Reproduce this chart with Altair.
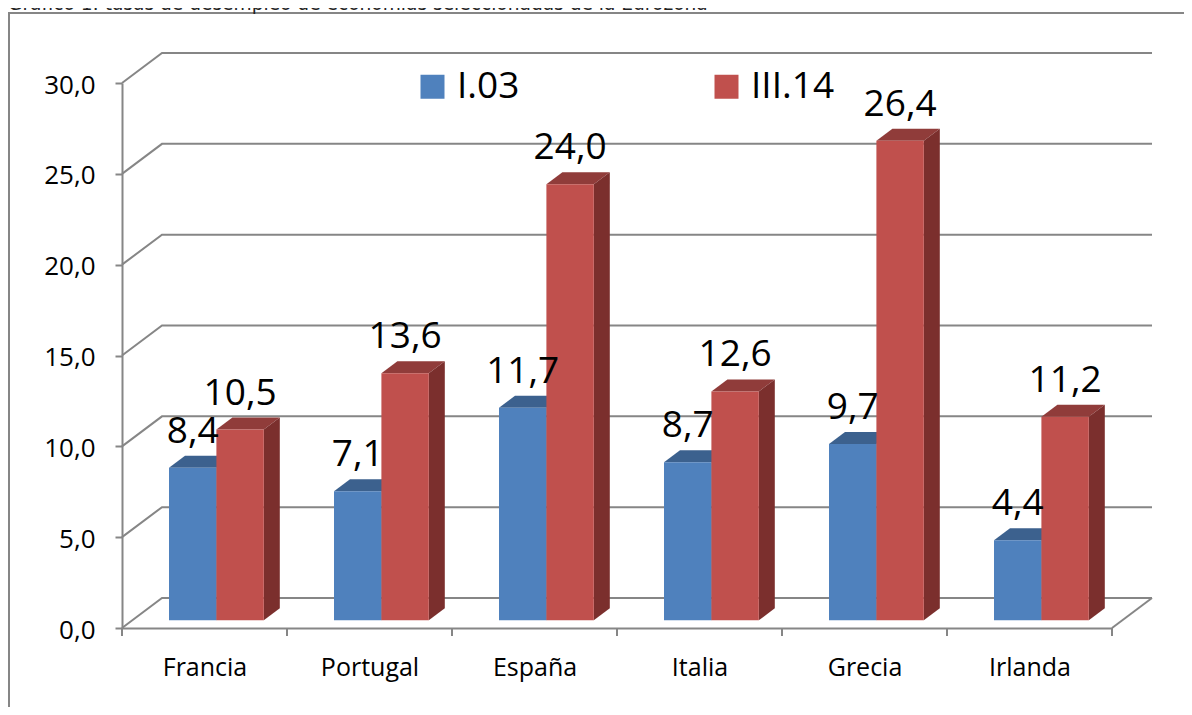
import altair as alt
import pandas as pd

categories = ["Francia", "Portugal", "España", "Italia", "Grecia", "Irlanda"]
series_names = ["I.03", "III.14"]
values_i03 = [8.4, 7.1, 11.7, 8.7, 9.7, 4.4]
values_iii14 = [10.5, 13.6, 24.0, 12.6, 26.4, 11.2]
y_ticks = [0, 5, 10, 15, 20, 25, 30]
title_text = "Gráfico 1: tasas de desempleo de economías seleccionadas de la Eurozona"

W, H = 990, 545
UX = W / 6.0
UY = H / 30.0
# pseudo-3D geometry in data units
WALL_DX, WALL_DY = 40 / UX, 30 / UY
BAR_DX, BAR_DY = 16 / UX, 12 / UY
BAR_W = 47.4 / UX
BAR_GAP = 47 / UX
BASE = 7.7 / UY

xs = alt.Scale(domain=[0, 6], nice=False, zero=False)
ys = alt.Scale(domain=[0, 30], nice=False, zero=False)
GRID = "#868686"
FONT = "Open Sans"


def X(f):
    return alt.X(f, scale=xs, title=None)


def Y(f):
    return alt.Y(f, scale=ys, title=None)


# back wall / floor lines
grid_rows = []
for v in y_ticks:
    grid_rows += [
        {"k": v, "x": 0, "y": v},
        {"k": v, "x": WALL_DX, "y": v + WALL_DY},
        {"k": v, "x": 6 + WALL_DX, "y": v + WALL_DY},
    ]
grid_rows += [{"k": 99, "x": 6, "y": 0}, {"k": 99, "x": 6 + WALL_DX, "y": WALL_DY}]
grid = alt.Chart(pd.DataFrame(grid_rows)).mark_line(color=GRID, strokeWidth=2).encode(
    x=X("x:Q"), y=Y("y:Q"), detail="k:N",
)

# main axes
axis_df = pd.DataFrame({"x": [i + 0.5 for i in range(6)], "y": [0] * 6})
label_expr = "[" + ",".join(f"'{c}'" for c in categories) + "][floor(datum.value)]"
axes = alt.Chart(axis_df).mark_point(opacity=0).encode(
    x=alt.X("x:Q", scale=xs, title=None, axis=alt.Axis(
        values=[i + 0.5 for i in range(6)], labelExpr=label_expr, tickSize=0, grid=False,
        domainColor=GRID, domainWidth=2, labelFontSize=25, labelFont=FONT,
        labelColor="black", labelPadding=27, labelFlush=False, labelOverlap=False)),
    y=alt.Y("y:Q", scale=ys, title=None, axis=alt.Axis(
        values=y_ticks, labelExpr="replace(format(datum.value,'.1f'),'.',',')", tickSize=7,
        tickColor=GRID, tickWidth=2, grid=False, domainColor=GRID, domainWidth=2,
        labelFontSize=26, labelFont=FONT, labelColor="black", labelPadding=20, labelOffset=2)),
)
xticks = alt.Chart(pd.DataFrame({"x": list(range(7))})).mark_rule(color=GRID, strokeWidth=2).encode(
    x=X("x:Q"), y=alt.value(H), y2=alt.value(H + 8),
)


# bars
def bar_layers(vals, name, offset, top_col, side_col):
    rows = []
    fronts = []
    for i, v in enumerate(vals):
        x0 = i + BAR_GAP + offset * BAR_W
        x1 = x0 + BAR_W
        t = v + BASE
        fronts.append({"x0": x0, "x1": x1, "b": BASE, "t": t, "series": name})
        rows += [
            {"p": f"t{i}", "x": x0, "y": t, "y2": t},
            {"p": f"t{i}", "x": x0 + BAR_DX, "y": t + BAR_DY, "y2": t},
            {"p": f"t{i}", "x": x1, "y": t + BAR_DY, "y2": t},
            {"p": f"t{i}", "x": x1 + BAR_DX, "y": t + BAR_DY, "y2": t + BAR_DY},
        ]
    sides = []
    for f, v in zip(fronts, vals):
        sides += [
            {"p": f"s{f['x0']}", "x": f["x1"], "y": f["t"], "y2": f["b"]},
            {"p": f"s{f['x0']}", "x": f["x1"] + BAR_DX, "y": f["t"] + BAR_DY, "y2": f["b"] + BAR_DY},
        ]
    top = alt.Chart(pd.DataFrame(rows)).mark_area(color=top_col).encode(
        x=X("x:Q"), y=Y("y:Q"), y2="y2:Q", detail="p:N")
    side = alt.Chart(pd.DataFrame(sides)).mark_area(color=side_col).encode(
        x=X("x:Q"), y=Y("y:Q"), y2="y2:Q", detail="p:N")
    front = alt.Chart(pd.DataFrame(fronts)).mark_rect().encode(
        x=X("x0:Q"), x2="x1:Q",
        y=Y("b:Q"), y2="t:Q",
        color=alt.Color("series:N",
                        scale=alt.Scale(domain=series_names, range=["#4F81BD", "#C0504D"]),
                        legend=alt.Legend(title=None, orient="none", legendX=292, legendY=-15,
                                          direction="horizontal", columns=2, columnPadding=188,
                                          symbolType="square", symbolSize=576, symbolStrokeWidth=0,
                                          labelFontSize=37, labelFont=FONT, labelColor="black",
                                          labelOffset=6, symbolOffset=0)),
    )
    lab = pd.DataFrame({
        "x": [(f["x0"] + f["x1"]) / 2 for f in fronts],
        "y": [f["t"] for f in fronts],
        "txt": [f"{v:.1f}".replace(".", ",") for v in vals],
    })
    return [top, side, front], lab


l1, lab1 = bar_layers(values_i03, series_names[0], 0, "#3C618E", "#335A85")
l2, lab2 = bar_layers(values_iii14, series_names[1], 1, "#903C3A", "#7B2F2D")

labels = alt.Chart(pd.concat([lab1, lab2])).mark_text(
    fontSize=37, font=FONT, color="black", baseline="middle", dy=-36
).encode(x=X("x:Q"), y=Y("y:Q"), text="txt:N")

# outer frame and cropped heading (the page margin keeps them from going higher)
frame_left = alt.Chart(pd.DataFrame({"a": [0]})).mark_rule(color=GRID, strokeWidth=2).encode(
    x=alt.value(-113), y=alt.value(-70), y2=alt.value(624))
frame_top = alt.Chart(pd.DataFrame({"a": [0]})).mark_rule(color=GRID, strokeWidth=2).encode(
    x=alt.value(-114), x2=alt.value(1062), y=alt.value(-70))
heading = alt.Chart(pd.DataFrame({"t": [title_text]})).mark_text(
    fontSize=18.6, font="DejaVu Sans", color="#222222", align="left", baseline="alphabetic"
).encode(x=alt.value(-114), y=alt.value(-73), text="t:N")

chart = alt.layer(axes, frame_left, frame_top, heading, grid, xticks, *l1, *l2, labels).properties(
    width=W, height=H,
    padding={"left": 114, "top": 75, "right": 72, "bottom": 79},
    autosize=alt.AutoSizeParams(type="none"),
).configure_view(stroke=None).configure_axis(grid=False)

chart.save("out.html", embed_options={"renderer": "svg", "actions": False})
